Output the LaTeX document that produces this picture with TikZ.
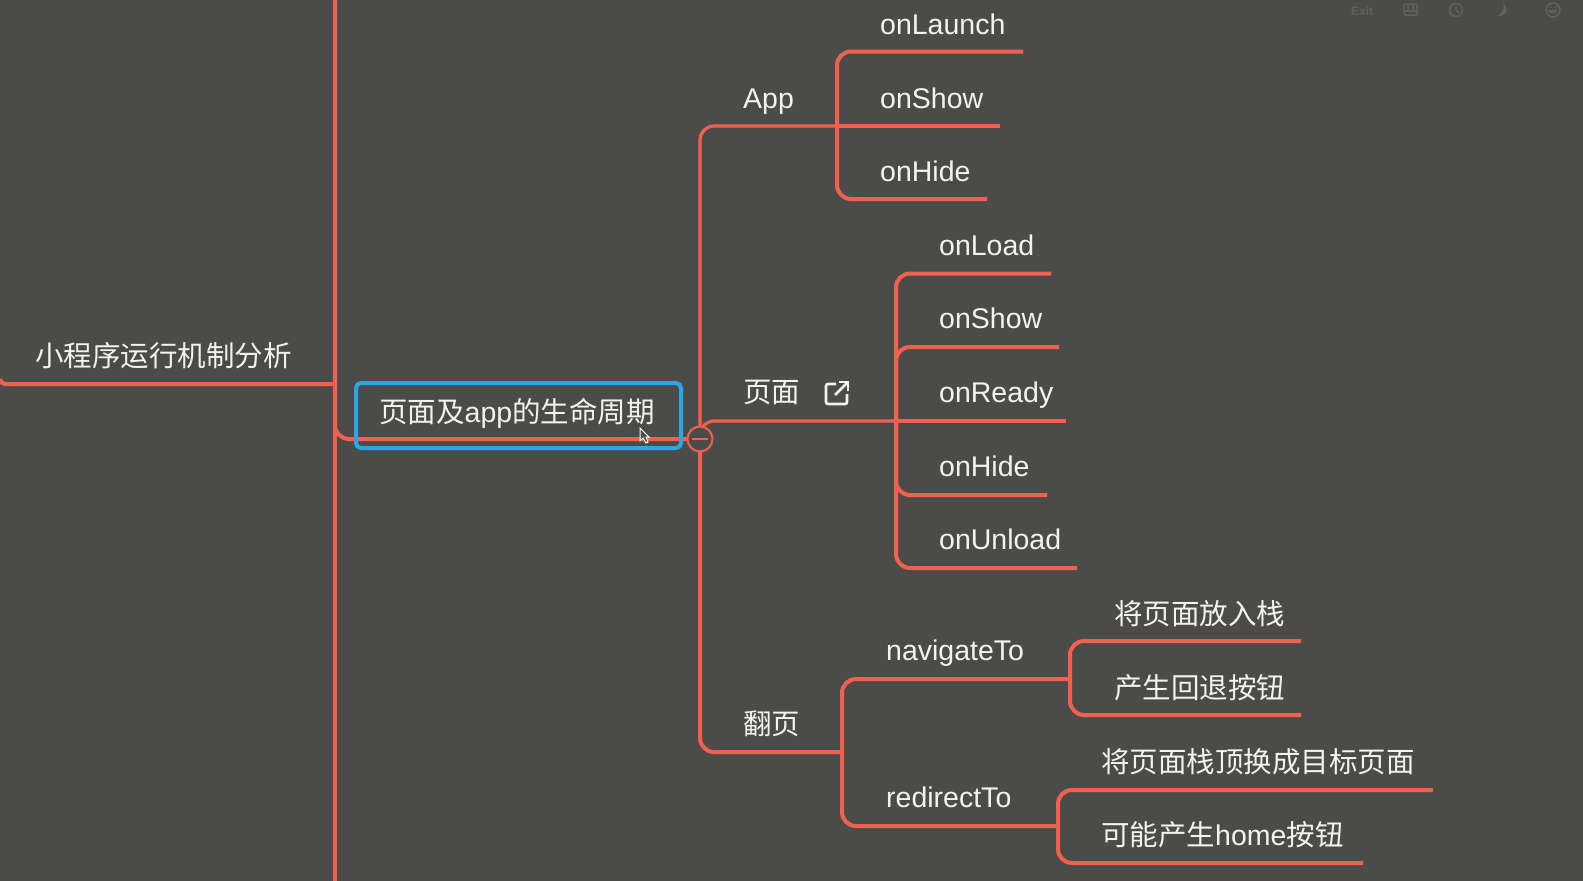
\documentclass[tikz,border=0pt]{standalone}
\usepackage{fontspec}
\setmainfont{Liberation Sans}
\newfontfamily\cjk{Noto Sans CJK SC}
\tikzset{
    branch/.style={draw=branchColour, line width=4pt, rounded corners=14pt},
    topic/.style={anchor=base west, inner sep=0pt, text=textColour, font=\fontsize{28.5}{30}\selectfont},
    toolIcon/.style={draw=toolColour, line width=1.5pt}
}
\begin{document}
\begin{tikzpicture}[x=1pt, y=-1pt]
    \definecolor{backColour}{HTML}{4B4C4A}
    \definecolor{branchColour}{HTML}{F2604F}
    \definecolor{focusColour}{HTML}{2BA6E6}
    \definecolor{textColour}{HTML}{F2F2F0}
    \definecolor{toolColour}{HTML}{5F615D}

    % Fix page size
    \fill[backColour] (0,0) rectangle (1583,881);
    \useasboundingbox (0,0) rectangle (1583,881);

    % Define junctions
    \coordinate (rootStart) at (0,379);
    \coordinate (spineTop) at (335,0);
    \coordinate (spineBottom) at (335,881);
    \coordinate (spineJoin) at (335,384);
    \coordinate (hub) at (700,439);
    \coordinate (appFork) at (837,126);
    \coordinate (pageFork) at (896,421);
    \coordinate (flipFork) at (842,752);
    \coordinate (navFork) at (1070,679);
    \coordinate (redirectFork) at (1058,826);

    % Draw main branches
    \draw[branch, rounded corners=5pt] (rootStart) |- (spineJoin);
    \draw[branch] (spineTop) -- (spineBottom);
    \draw[branch] (spineTop) |- (hub);
    \draw[branch, line width=3.2pt] (hub) |- (appFork);
    \draw[branch, line width=3.2pt] (hub) |- (pageFork);
    \draw[branch] (hub) |- (flipFork);
    \draw[branch] (flipFork) |- (navFork);
    \draw[branch] (flipFork) |- (redirectFork);

    % Draw App leaves
    \foreach \leaf/\lineY/\lineEnd/\leafText in {launch/51.5/1023/onLaunch, appHide/199/987/onHide} {
        \coordinate (\leaf End) at (\lineEnd,\lineY);
        \draw[branch] (appFork) |- (\leaf End);
        \node[topic] (\leaf) at (880,\lineY-17.5) {\leafText};
    }
    \coordinate (appShowEnd) at (1000,126);
    \coordinate (appShowStart) at (864,126);
    \draw[branch, line width=3.2pt] (appFork) -- (appShowEnd);
    \draw[branch] (appShowStart) -- (appShowEnd);
    \node[topic] (appShow) at (880,108.5) {onShow};

    % Draw page leaves
    \foreach \leaf/\lineY/\lineEnd/\leafText in {load/273.5/1051/onLoad, pageShow/347/1059/onShow, pageHide/495/1047/onHide, unload/568/1077/onUnload} {
        \coordinate (\leaf End) at (\lineEnd,\lineY);
        \draw[branch] (pageFork) |- (\leaf End);
        \node[topic] (\leaf) at (939,\lineY-18.5) {\leafText};
    }
    \coordinate (readyEnd) at (1066,421);
    \coordinate (readyStart) at (923,421);
    \draw[branch, line width=3.2pt] (pageFork) -- (readyEnd);
    \draw[branch] (readyStart) -- (readyEnd);
    \node[topic] (ready) at (939,402.5) {onReady};

    % Draw navigate leaves
    \foreach \leaf/\lineY/\leafText in {push/641/将页面放入栈, back/715/产生回退按钮} {
        \coordinate (\leaf End) at (1301,\lineY);
        \draw[branch] (navFork) |- (\leaf End);
        \node[topic] (\leaf) at (1114,\lineY-17) {\cjk\leafText};
    }

    % Draw redirect leaves
    \coordinate (swapEnd) at (1433,790);
    \coordinate (homeEnd) at (1363,863);
    \draw[branch] (redirectFork) |- (swapEnd);
    \draw[branch] (redirectFork) |- (homeEnd);
    \node[topic] (swap) at (1101,772) {\cjk 将页面栈顶换成目标页面};
    \node[topic] (home) at (1101,845) {{\cjk 可能产生}home{\cjk 按钮}};

    % Label branches
    \node[topic] (root) at (35,366) {\cjk 小程序运行机制分析};
    \node[topic] (app) at (743,108) {App};
    \node[topic] (page) at (743,402) {\cjk 页面};
    \node[topic] (flip) at (743,734) {\cjk 翻页};
    \node[topic] (navigate) at (886,660) {navigateTo};
    \node[topic] (redirect) at (886,807) {redirectTo};

    % Draw selected topic
    \node[draw=focusColour, line width=4pt, rounded corners=5pt, minimum width=325pt, minimum height=65pt, inner sep=0pt] (lifeCycle) at (518.5,415.5) {};
    \node[topic] (lifeCycleText) at (379,422) {{\cjk 页面及}app{\cjk 的生命周期}};

    % Draw collapse button
    \node[circle, draw=branchColour, fill=backColour, line width=2pt, minimum size=25pt, inner sep=0pt] (toggle) at (hub) {};
    \draw[draw=branchColour, line width=2pt] ([xshift=-8pt]toggle.center) -- ([xshift=8pt]toggle.center);

    % Draw link icon
    \draw[draw=textColour, line width=2.6pt, rounded corners=2pt] (836,384) -- (826,384) -- (826,404) -- (847,404) -- (847,394);
    \draw[draw=textColour, line width=2.6pt] (835,395) -- (848,382);
    \draw[draw=textColour, line width=2.6pt] (839,382) -- (848,382) -- (848,391);

    % Draw mouse pointer
    \draw[fill=black!70, draw=white, line width=1pt] (640,428) -- (640,441) -- (643,438) -- (646,443) -- (648,442) -- (646,437) -- (649,437) -- cycle;

    % Draw toolbar
    \node[inner sep=0pt, text=toolColour, font=\bfseries\fontsize{12}{13}\selectfont] (exit) at (1362,11) {Exit};
    \draw[toolIcon, rounded corners=1pt] (1404,4) rectangle (1417,15);
    \draw[toolIcon] (1404,11) -- (1417,11);
    \draw[toolIcon] (1408,5) -- (1408,9);
    \draw[toolIcon] (1413,5) -- (1413,9);
    \draw[toolIcon] (1456,10) circle (6.5);
    \draw[toolIcon] (1456,6) -- (1456,10) -- (1459,13);
    \fill[toolColour] (1503,3) .. controls (1510,10) and (1506,17) .. (1497,16) .. controls (1499,14) and (1506,12) .. (1503,3);
    \draw[toolIcon] (1553,10) circle (7);
    \fill[toolColour] (1548,10) -- (1558,10) .. controls (1557,15) and (1549,15) .. (1548,10);
    \fill[toolColour] (1550.5,7) circle (1);
    \fill[toolColour] (1555.5,7) circle (1);
\end{tikzpicture}
\end{document}
